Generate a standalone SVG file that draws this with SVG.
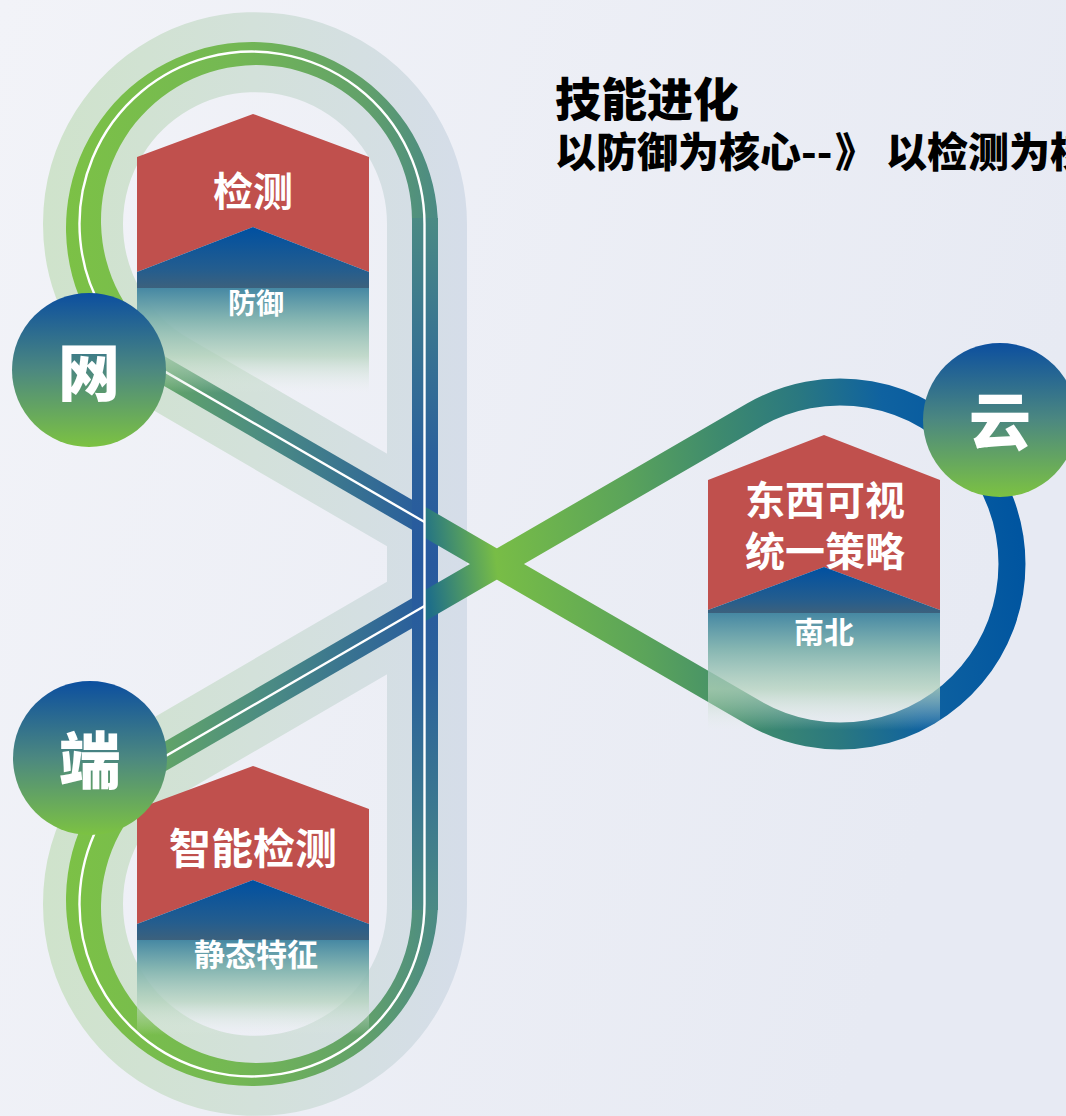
<svg xmlns="http://www.w3.org/2000/svg" width="1066" height="1116" viewBox="0 0 1066 1116">
  <style>
    .cjk { font-family: "Noto Sans CJK SC", "Noto Sans CJK JP", sans-serif; }
    .lbl { fill: #ffffff; font-weight: 700; text-anchor: middle; }
    .node-txt { fill: #ffffff; font-weight: 900; text-anchor: middle; font-size: 62px; }
    .title { fill: #000000; font-weight: 900; }
    .red { fill: #c0504d; }
    .roof { fill: url(#roofG); }
    .fade { fill: url(#fadeG); }
    .circ { fill: url(#circG); }
    .white { fill: none; stroke: #ffffff; stroke-width: 2.4; }
  </style>
  <defs>
    <linearGradient id="bg" x1="0" y1="0" x2="1" y2="0.3">
      <stop offset="0" stop-color="#f2f3f8"/>
      <stop offset="1" stop-color="#e7eaf3"/>
    </linearGradient>
    <linearGradient id="glow" gradientUnits="userSpaceOnUse" x1="40" y1="0" x2="467" y2="0">
      <stop offset="0" stop-color="#cfe3cb"/>
      <stop offset="0.5" stop-color="#d3e1da"/>
      <stop offset="1" stop-color="#d5dde9"/>
    </linearGradient>
    <linearGradient id="arcG" gradientUnits="userSpaceOnUse" x1="66" y1="0" x2="438" y2="0">
      <stop offset="0" stop-color="#7cc146"/>
      <stop offset="0.45" stop-color="#74b853"/>
      <stop offset="0.8" stop-color="#62a16a"/>
      <stop offset="1" stop-color="#4b8a84"/>
    </linearGradient>
    <linearGradient id="vertG" gradientUnits="userSpaceOnUse" x1="0" y1="218" x2="0" y2="910">
      <stop offset="0" stop-color="#4b8a84"/>
      <stop offset="0.16" stop-color="#3a7690"/>
      <stop offset="0.34" stop-color="#2b619b"/>
      <stop offset="0.5" stop-color="#27599e"/>
      <stop offset="0.66" stop-color="#2b619b"/>
      <stop offset="0.84" stop-color="#3a7690"/>
      <stop offset="1" stop-color="#4b8a84"/>
    </linearGradient>
    <linearGradient id="diagG" gradientUnits="userSpaceOnUse" x1="120" y1="0" x2="425" y2="0">
      <stop offset="0" stop-color="#6aae5d"/>
      <stop offset="0.5" stop-color="#4a8a84"/>
      <stop offset="1" stop-color="#285c9d"/>
    </linearGradient>
    <linearGradient id="fishG" gradientUnits="userSpaceOnUse" x1="425" y1="564" x2="1013" y2="490">
      <stop offset="0" stop-color="#1f6f88"/>
      <stop offset="0.12" stop-color="#78bd46"/>
      <stop offset="0.35" stop-color="#5ba45a"/>
      <stop offset="0.52" stop-color="#3e8a6e"/>
      <stop offset="0.66" stop-color="#2a7880"/>
      <stop offset="0.8" stop-color="#0f62a0"/>
      <stop offset="1" stop-color="#0055a0"/>
    </linearGradient>
    <linearGradient id="circG" x1="0" y1="0" x2="0" y2="1">
      <stop offset="0" stop-color="#0c4f9f"/>
      <stop offset="0.5" stop-color="#4c8880"/>
      <stop offset="1" stop-color="#7cc242"/>
    </linearGradient>
    <linearGradient id="roofG" x1="0" y1="0" x2="0" y2="1">
      <stop offset="0" stop-color="#0050a1"/>
      <stop offset="0.7" stop-color="#245d8e"/>
      <stop offset="1" stop-color="#3c617d"/>
    </linearGradient>
    <linearGradient id="fadeG" x1="0" y1="0" x2="0" y2="1">
      <stop offset="0" stop-color="#4688a3" stop-opacity="1"/>
      <stop offset="0.3" stop-color="#7fb2ae" stop-opacity="0.95"/>
      <stop offset="0.65" stop-color="#b3d2bd" stop-opacity="0.75"/>
      <stop offset="1" stop-color="#e3ede6" stop-opacity="0"/>
    </linearGradient>
    <clipPath id="clipGlow"><rect x="0" y="0" width="467" height="1116"/></clipPath>
    <clipPath id="clipFish"><rect x="425" y="0" width="641" height="1116"/></clipPath>
  </defs>

  <rect id="background" x="0" y="0" width="1066" height="1116" fill="url(#bg)"/>

  <g id="connectors">
    <path id="glow-band" d="M 497,564 L 168.4,372.8 A 172 172 0 1 1 427,224 L 427,904 A 172 172 0 1 1 168.4,755.2 Z" fill="none" stroke="url(#glow)" stroke-width="80" stroke-linejoin="round" clip-path="url(#clipGlow)"/>
    <line id="diag-wang" x1="115" y1="342.6" x2="425" y2="522.3" stroke="url(#diagG)" stroke-width="26"/>
    <line id="diag-duan" x1="115" y1="785.4" x2="425" y2="605.7" stroke="url(#diagG)" stroke-width="26"/>
    <path id="arc-top" d="M 99.6,334.7 A 186 186 0 1 1 438,228 L 412,220.5 A 155.5 155.5 0 1 0 129.1,309.7 Z" fill="url(#arcG)"/>
    <path id="arc-bottom" d="M 438,900 A 186 186 0 1 1 99.6,793.3 L 129.1,818.3 A 155.5 155.5 0 1 0 412,907.5 Z" fill="url(#arcG)"/>
    <line id="vertical" x1="425" y1="218" x2="425" y2="910" stroke="url(#vertG)" stroke-width="26"/>
    <path id="loop-yun" d="M 414,515.9 L 753.7,712.8 A 172 172 0 1 0 753.7,415.2 L 414,612.1" fill="none" stroke="url(#fishG)" stroke-width="27" clip-path="url(#clipFish)"/>
    <path class="white" d="M 102.6,310.3 A 172.5 172.5 0 1 1 424.5,224 L 424.5,904 A 172.5 172.5 0 1 1 102.6,817.7"/>
    <line class="white" x1="115" y1="342.6" x2="424.5" y2="522"/>
    <line class="white" x1="115" y1="785.4" x2="424.5" y2="606"/>
  </g>

  <g id="box-jiance" class="cjk">
    <polygon class="red" points="137,157 253,114 369,157 369,272 253,227 137,272"/>
    <polygon class="roof" points="137,272 253,227 369,272 369,288 137,288"/>
    <rect class="fade" x="137" y="288" width="232" height="105"/>
    <text class="lbl" x="253" y="206" font-size="40">检测</text>
    <text class="lbl" x="256" y="314" font-size="28">防御</text>
  </g>

  <g id="box-zhineng" class="cjk">
    <polygon class="red" points="137,809 253,766 369,809 369,924 253,880 137,924"/>
    <polygon class="roof" points="137,924 253,880 369,924 369,940 137,940"/>
    <rect class="fade" x="137" y="940" width="232" height="95"/>
    <text class="lbl" x="253" y="864" font-size="42">智能检测</text>
    <text class="lbl" x="256" y="966" font-size="31">静态特征</text>
  </g>

  <g id="box-dongxi" class="cjk">
    <polygon class="red" points="708,480 824,435 940,480 940,610 824,567 708,610"/>
    <polygon class="roof" points="708,610 824,567 940,610 940,613 708,613"/>
    <rect class="fade" x="708" y="613" width="232" height="117"/>
    <text class="lbl" x="825" y="515" font-size="40">东西可视</text>
    <text class="lbl" x="825" y="566" font-size="40">统一策略</text>
    <text class="lbl" x="824" y="643" font-size="30">南北</text>
  </g>

  <g id="node-wang" class="cjk">
    <circle class="circ" cx="89" cy="370" r="77"/>
    <text class="node-txt" x="89" y="396">网</text>
  </g>
  <g id="node-duan" class="cjk">
    <circle class="circ" cx="90" cy="758" r="77"/>
    <text class="node-txt" x="90" y="784">端</text>
  </g>
  <g id="node-yun" class="cjk">
    <circle class="circ" cx="1000" cy="420" r="77"/>
    <text class="node-txt" x="1000" y="445">云</text>
  </g>

  <g id="title" class="cjk">
    <text class="title" x="555" y="116" font-size="46">技能进化</text>
    <text class="title" y="167" font-size="41"><tspan x="555">以防御为核心--</tspan><tspan x="835">》</tspan><tspan x="886">以检测为核心</tspan></text>
  </g>
</svg>
